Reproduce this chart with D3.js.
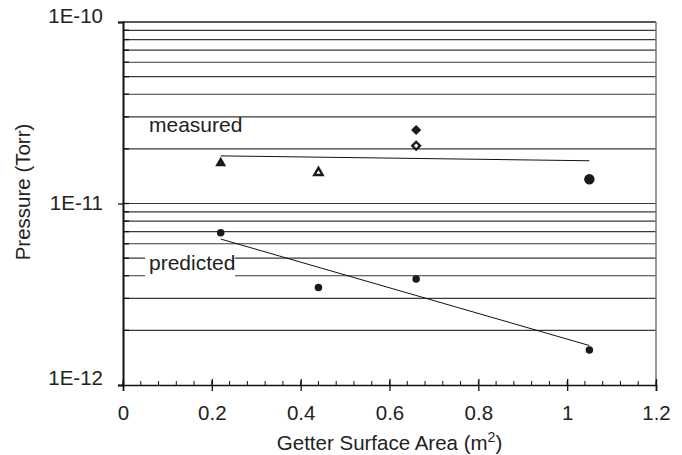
<!DOCTYPE html>
<html>
<head>
<meta charset="utf-8">
<script src="https://cdn.jsdelivr.net/npm/d3@7"></script>
<style>
  body { margin: 0; background: #fff; }
  text { font-family: Arial, "Liberation Sans", sans-serif; fill: #222; }
</style>
</head>
<body>
<div id="chart"></div>
<script>
// Values
const xTicks = [0, 0.2, 0.4, 0.6, 0.8, 1, 1.2];
const yTickValues = [1e-12, 1e-11, 1e-10];
const yTickLabels = ["1E-12", "1E-11", "1E-10"];

const measuredX = [0.22, 0.44, 0.66, 0.66, 1.05];
const measuredP = [1.67e-11, 1.48e-11, 2.54e-11, 2.08e-11, 1.36e-11];
const measuredShape = ["triFilled", "triOpen", "diaFilled", "diaOpen", "circle"];

const predictedX = [0.22, 0.44, 0.66, 1.05];
const predictedP = [6.9e-12, 3.44e-12, 3.84e-12, 1.56e-12];

// trend lines (end points as drawn)
const measuredFitX = [0.22, 1.05];
const measuredFitP = [1.83e-11, 1.72e-11];
const predictedFitX = [0.22, 1.05];
const predictedFitP = [6.37e-12, 1.65e-12];

// Set up the dimensions of the chart
const W = 682, H = 455;
const plotL = 123, plotR = 656, plotT = 22, plotB = 385;
const fs = 20.5;

const svg = d3.select("#chart")
    .append("svg")
    .attr("width", W)
    .attr("height", H);

const x = d3.scaleLinear().domain([0, 1.2]).range([plotL, plotR]);
const y = d3.scaleLog().domain([1e-12, 1e-10]).range([plotB, plotT]);

// horizontal gridlines at every log tick
const grid = y.ticks().filter(v => v > 1e-12 * 1.001 && v < 1e-10 * 0.999);
svg.append("g")
    .selectAll("line")
    .data(grid)
    .join("line")
    .attr("x1", plotL)
    .attr("x2", plotR)
    .attr("y1", d => y(d))
    .attr("y2", d => y(d))
    .attr("stroke", "#3a3a3a")
    .attr("stroke-width", 1.2);

// frame: top and right
svg.append("line")
    .attr("x1", plotL).attr("x2", plotR)
    .attr("y1", plotT).attr("y2", plotT)
    .attr("stroke", "#222").attr("stroke-width", 1.5);
svg.append("line")
    .attr("x1", plotR).attr("x2", plotR)
    .attr("y1", plotT).attr("y2", plotB)
    .attr("stroke", "#777").attr("stroke-width", 1.5);

// label box
svg.append("rect")
    .attr("x", 145).attr("y", 256)
    .attr("width", 90).attr("height", 22)
    .attr("fill", "#fff");

svg.append("text")
    .attr("x", 149).attr("y", 131.5)
    .attr("font-size", 21)
    .text("measured");
svg.append("text")
    .attr("x", 149).attr("y", 269.5)
    .attr("font-size", 21)
    .text("predicted");

// trend lines
const line = d3.line()
    .x(d => x(d[0]))
    .y(d => y(d[1]));

svg.append("path")
    .datum(measuredFitX.map((v, i) => [v, measuredFitP[i]]))
    .attr("fill", "none")
    .attr("stroke", "#111")
    .attr("stroke-width", 1)
    .attr("d", line);

svg.append("path")
    .datum(predictedFitX.map((v, i) => [v, predictedFitP[i]]))
    .attr("fill", "none")
    .attr("stroke", "#111")
    .attr("stroke-width", 1)
    .attr("d", line);

// measured markers
const shapeDef = {
    triFilled: { type: d3.symbolTriangle, size: 52, fill: "#1a1a1a", stroke: "none", rot: 0 },
    triOpen:   { type: d3.symbolTriangle, size: 30, fill: "#fff", stroke: "#1a1a1a", rot: 0 },
    diaFilled: { type: d3.symbolSquare, size: 52, fill: "#1a1a1a", stroke: "none", rot: 45 },
    diaOpen:   { type: d3.symbolSquare, size: 30, fill: "#fff", stroke: "#1a1a1a", rot: 45 },
    circle:    { type: d3.symbolCircle, size: 85, fill: "#1a1a1a", stroke: "none", rot: 0 }
};

svg.append("g")
    .selectAll("path")
    .data(measuredX.map((v, i) => ({ x: v, p: measuredP[i], s: shapeDef[measuredShape[i]] })))
    .join("path")
    .attr("transform", d => `translate(${x(d.x)},${y(d.p)}) rotate(${d.s.rot})`)
    .attr("d", d => d3.symbol().type(d.s.type).size(d.s.size)())
    .attr("fill", d => d.s.fill)
    .attr("stroke", d => d.s.stroke)
    .attr("stroke-width", 2.4);

// predicted markers
svg.append("g")
    .selectAll("path")
    .data(predictedX.map((v, i) => [v, predictedP[i]]))
    .join("path")
    .attr("transform", d => `translate(${x(d[0])},${y(d[1])})`)
    .attr("d", d3.symbol().type(d3.symbolCircle).size(44)())
    .attr("fill", "#1a1a1a");

// x axis
const gx = svg.append("g")
    .attr("transform", `translate(0,${plotB})`)
    .call(d3.axisBottom(x).tickValues(xTicks).tickFormat(d3.format("~g")).tickSize(6).tickPadding(14));
gx.select(".domain").attr("stroke", "#111").attr("stroke-width", 1.6);
gx.selectAll(".tick line").attr("y1", -6).attr("stroke", "#111").attr("stroke-width", 1.3);
gx.selectAll(".tick text").attr("font-size", fs).attr("font-family", "Arial, 'Liberation Sans', sans-serif").attr("fill", "#222");

// x minor ticks
svg.append("g")
    .selectAll("line")
    .data(d3.range(0, 31).map(i => i * 0.04))
    .join("line")
    .attr("x1", d => x(d)).attr("x2", d => x(d))
    .attr("y1", plotB).attr("y2", plotB - 4)
    .attr("stroke", "#111").attr("stroke-width", 1);

// y axis
const gy = svg.append("g")
    .attr("transform", `translate(${plotL},0)`)
    .call(d3.axisLeft(y).tickValues(yTickValues).tickFormat((d, i) => yTickLabels[i]).tickSize(5).tickPadding(15));
gy.select(".domain").attr("stroke", "#111").attr("stroke-width", 2);
gy.selectAll(".tick line").attr("stroke", "#111").attr("stroke-width", 1.3);
const yNudge = [-7, -1, -6];
gy.selectAll(".tick text")
    .attr("font-size", fs)
    .attr("font-family", "Arial, 'Liberation Sans', sans-serif")
    .attr("fill", "#222")
    .attr("y", (d, i) => yNudge[i]);

// y minor ticks (inside)
svg.append("g")
    .selectAll("line")
    .data(grid)
    .join("line")
    .attr("x1", plotL).attr("x2", plotL + 6)
    .attr("y1", d => y(d)).attr("y2", d => y(d))
    .attr("stroke", "#111").attr("stroke-width", 1.3);

// axis titles
const xt = svg.append("text")
    .attr("x", (plotL + plotR) / 2)
    .attr("y", 450)
    .attr("text-anchor", "middle")
    .attr("font-size", fs);
xt.append("tspan").text("Getter Surface Area (m");
xt.append("tspan").attr("font-size", 14).attr("dy", -8).text("2");
xt.append("tspan").attr("dy", 8).text(")");

svg.append("text")
    .attr("transform", "translate(30,192) rotate(-90)")
    .attr("text-anchor", "middle")
    .attr("font-size", fs)
    .text("Pressure (Torr)");
</script>
</body>
</html>
